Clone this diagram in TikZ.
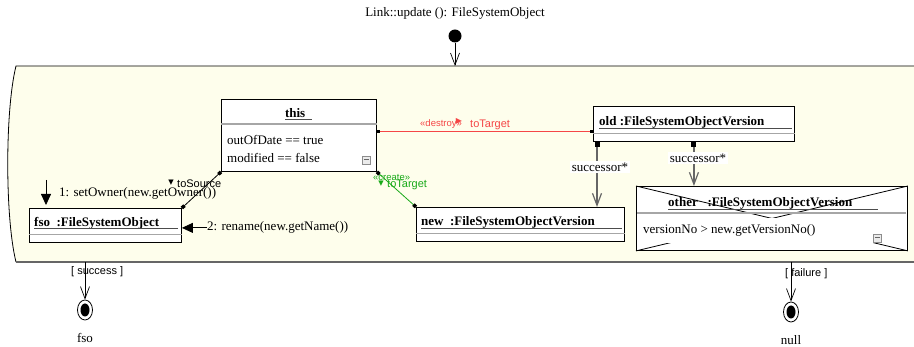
\documentclass[tikz,border=0pt]{standalone}
\usepackage{fontspec}
\setmainfont{Liberation Serif}
\setsansfont{Liberation Sans}
\newfontfamily\dirfont{DejaVu Sans}
\usetikzlibrary{arrows.meta,positioning,calc,shapes.geometric}

\definecolor{actfill}{RGB}{254,254,236}
\definecolor{destroyred}{RGB}{245,70,70}
\definecolor{creategreen}{RGB}{25,170,25}

% bold object name with a long underline
\newcommand{\objname}[2]{\rlap{\textbf{#2}}\textcolor{black!70}{\rule[-2.8pt]{#1}{1.2pt}}}
\newcommand{\dirdown}{{\dirfont\fontsize{7}{7}\selectfont ▼}}
\newcommand{\dirright}{{\dirfont\fontsize{8}{8}\selectfont ▶}}

\begin{document}
\begin{tikzpicture}[
    x=1pt, y=-1pt,
    every node/.style={font=\fontsize{13}{15}\selectfont, inner sep=0pt},
    objbox/.style={rectangle, draw, fill=white, line width=0.9pt, anchor=north west},
    sep/.style={draw=black!35, line width=1.1pt},
    fold/.style={rectangle, draw=black!45, fill=black!8, minimum size=8pt,
        path picture={\draw[black!60, line width=1pt] ([xshift=1.5pt]path picture bounding box.west) -- ([xshift=-1.5pt]path picture bounding box.east);}},
    lbl/.style={font=\sffamily\fontsize{11}{12}\selectfont},
    stereo/.style={font=\sffamily\fontsize{9.5}{10}\selectfont},
    link/.style={{Square[length=3.5pt,width=3.5pt,color=black]}-{Square[length=3.5pt,width=3.5pt,color=black]}, line width=0.8pt},
    succ/.style={{Square[length=5pt,width=5pt,color=black]}-{Straight Barb[length=12pt,width=9pt]}, draw=black!60, line width=1.2pt},
    msg/.style={-{Triangle[length=11pt,width=10pt]}, line width=0.8pt},
    flow/.style={-{Straight Barb[length=12pt,width=9pt]}, line width=0.7pt},
    final/.style={ellipse, draw, fill=white, line width=0.8pt, minimum width=15pt, minimum height=20pt,
        path picture={\fill[black] (path picture bounding box.center) ellipse [x radius=4.5pt, y radius=6.5pt];}}
]
\useasboundingbox (0,0) rectangle (914,347);

% Activity frame
\fill[actfill] (914,66) -- (16,66) .. controls (5,110) and (5,218) .. (16,262) -- (914,262) -- cycle;
\draw[line width=0.8pt] (914,66) -- (16,66) .. controls (5,110) and (5,218) .. (16,262);
\draw[black!60, line width=1.3pt] (16,262) -- (914,262);
\coordinate (acttop) at (455,66);
\coordinate (actbot1) at (85,262);
\coordinate (actbot2) at (791,262);

% Start
\node (title) at (455,13) {Link::update (): FileSystemObject};
\node[circle, fill, minimum size=13pt] (start) at (455,36) {};
\draw[flow] (start) -- (acttop);

% Object this
\node[objbox, minimum width=155pt, minimum height=72pt] (this) at (221,99) {};
\node[anchor=base] (thisname) at (298.5,117.5) {\objname{27pt}{this}};
\draw[sep] ([yshift=-25pt]this.north west) -- ([yshift=-25pt]this.north east);
\node[anchor=base west] (thisattr1) at (227,145) {outOfDate == true};
\node[anchor=base west] (thisattr2) at (227,163) {modified == false};
\node[fold] (thisfold) at (366,160) {};

% Object fso
\node[objbox, minimum width=152pt, minimum height=34pt] (fso) at (29,208) {};
\node[anchor=base west] (fsoname) at (34,226.5) {\objname{144pt}{fso\ \ :FileSystemObject}};
\draw[sep] ([yshift=8pt]fso.south west) -- ([yshift=8pt]fso.south east);

% Object new
\node[objbox, minimum width=208pt, minimum height=34pt] (new) at (416,207) {};
\node[anchor=base west] (newname) at (421,226) {\objname{201pt}{new\ \ :FileSystemObjectVersion}};
\draw[sep] ([yshift=8pt]new.south west) -- ([yshift=8pt]new.south east);

% Object old
\node[objbox, minimum width=201pt, minimum height=35pt] (old) at (593,106) {};
\node[anchor=base west] (oldname) at (599,126) {\objname{193pt}{old :FileSystemObjectVersion}};
\draw[sep] ([yshift=8pt]old.south west) -- ([yshift=8pt]old.south east);

% Object other (negative)
\node[objbox, minimum width=271pt, minimum height=64pt] (other) at (636,186) {};
\draw[line width=0.8pt] (other.north west) -- (other.south east) (other.north east) -- (other.south west);
\fill[white] (637,218) rectangle (906,243.5);
\draw[sep] (637,213) -- (906,213);
\node[anchor=base west] (othername) at (668,207) {\objname{210pt}{other\ \ \ :FileSystemObjectVersion}};
\node[anchor=base west] (otherattr) at (643,234) {versionNo > new.getVersionNo()};
\node[fold] (otherfold) at (877,238) {};

% Links
\draw[link] (this.south west) -- (fso.north east);
\node[lbl, anchor=base west] (srclbl) at (177,188) {toSource};
\node[left=3pt of srclbl.west, yshift=2pt] (srcdir) {\dirdown};

\draw[link, draw=creategreen] (this.south east) -- (new.north west);
\node[stereo, text=creategreen, anchor=base west] (createlbl) at (373,180.5) {«create»};
\node[lbl, text=creategreen, anchor=base west] (newlbl) at (387,188) {toTarget};
\node[text=creategreen, left=3pt of newlbl.west, yshift=2pt] (newdir) {\dirdown};

\draw[link, draw=destroyred, line width=1.2pt] ([yshift=4pt]this.east) -- ([yshift=4pt]this.east -| old.west);
\node[stereo, text=destroyred, anchor=base west] (destroylbl) at (420,126.5) {«destroy»};
\node[text=destroyred] (olddir) at (459,121) {\dirright};
\node[lbl, text=destroyred, anchor=base west] (oldlbl) at (470,127.5) {toTarget};

\draw[succ] ([xshift=4pt]old.south west) -- ([xshift=4pt]old.south west |- new.north);
\node[fill=white, inner sep=1.5pt] (succ1) at (600,167) {successor*};
\draw[succ] (old.south) -- (old.south |- other.north);
\node[fill=white, inner sep=1.5pt] (succ2) at (698,158) {successor*};

% Messages
\coordinate (m1tail) at (46,180);
\draw[msg, shorten >=3pt] (m1tail) -- (m1tail |- fso.north);
\node[anchor=base west] (m1) at (59,197) {1: setOwner(new.getOwner())};
\node[anchor=base west] (m2) at (207,231) {2: rename(new.getName())};
\draw[msg] (m2.west) -- (m2.west -| fso.east);

% Stop states
\node[final] (final1) at (85,310) {};
\node[final] (final2) at (791,312) {};
\draw[flow] (actbot1) -- (final1);
\draw[flow] (actbot2) -- (final2);
\node[lbl, anchor=west] (guard1) at (71,272) {[ success ]};
\node[lbl, anchor=west] (guard2) at (785,274) {[ failure ]};
\node[below=13pt of final1] (fsolbl) {fso};
\node[below=13pt of final2] (nulllbl) {null};

\end{tikzpicture}
\end{document}
